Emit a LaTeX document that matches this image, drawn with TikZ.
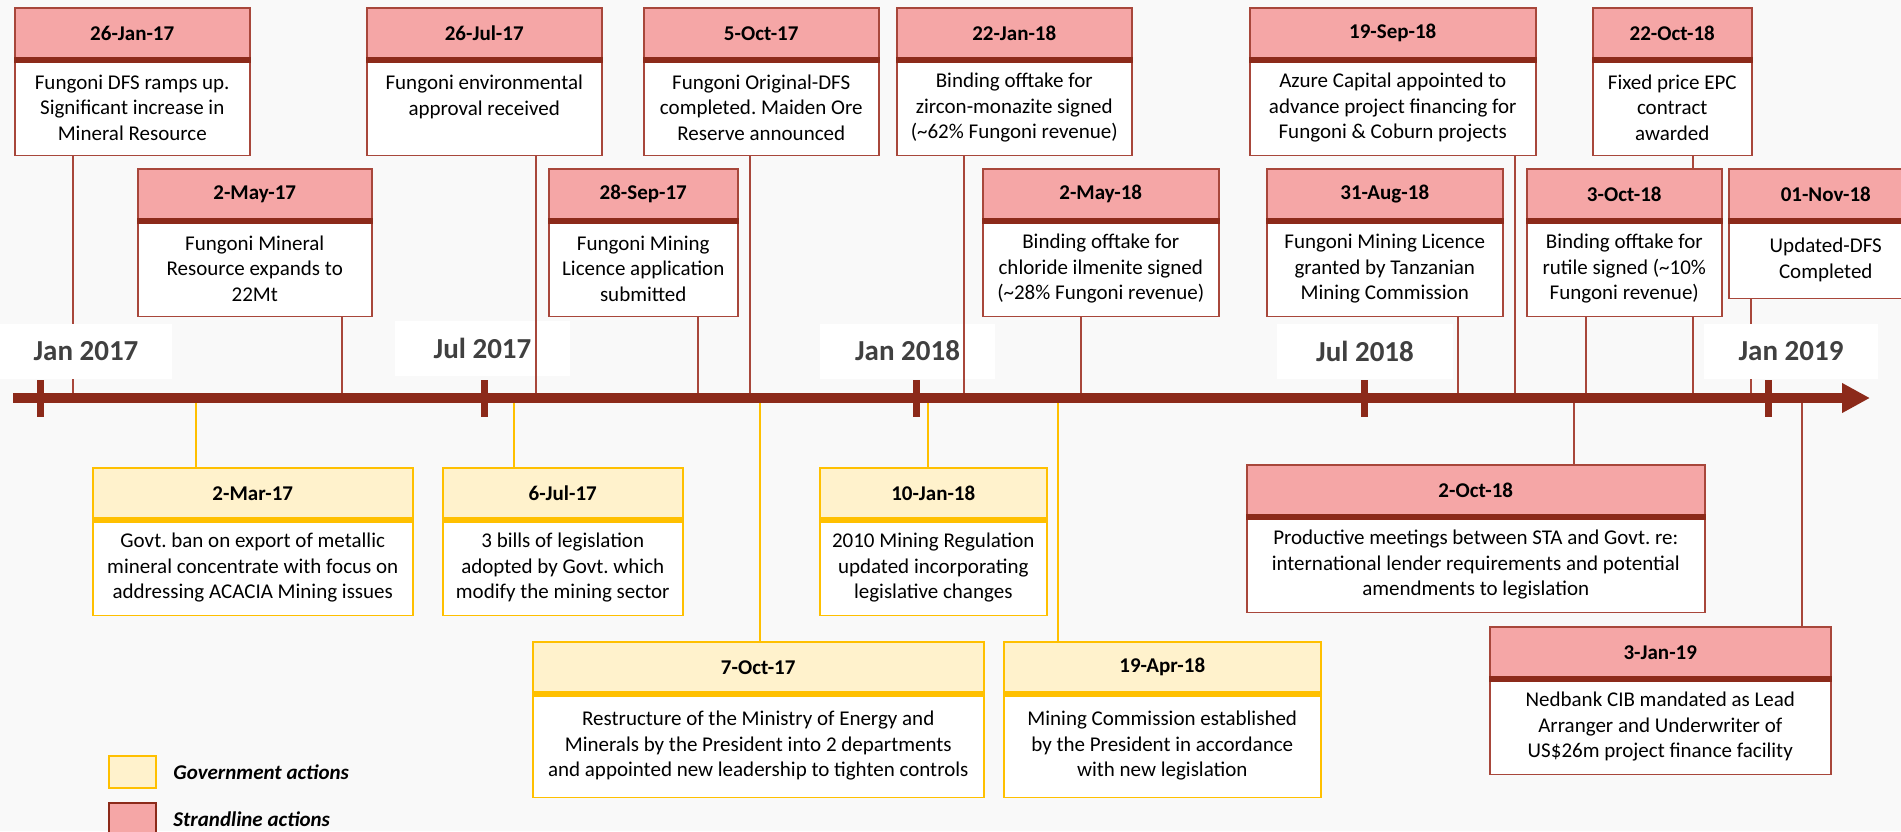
\documentclass[tikz,border=0pt]{standalone}
\usepackage{fontspec}
\setmainfont{Carlito}
\usetikzlibrary{positioning,arrows.meta}

\definecolor{pagebg}{HTML}{F9F9F9}
\definecolor{stred}{HTML}{8C2A1A}
\definecolor{stline}{HTML}{A8473B}
\definecolor{stfill}{HTML}{F5A6A6}
\definecolor{gvgold}{HTML}{FFC000}
\definecolor{gvfill}{HTML}{FFF2CC}
\definecolor{yeargray}{HTML}{404040}

\newcommand\evdate{\fontsize{10.5}{12.75}\selectfont\bfseries}
\newcommand\evtext{\fontsize{10.5}{12.75}\selectfont}
\frenchspacing

\begin{document}
\begin{tikzpicture}[
  x=0.5pt, y=-0.5pt,
  redhead/.style={draw=stline, fill=stfill, line width=0.75pt, inner sep=0pt,
    minimum height=25.5pt, anchor=north west, font=\evdate},
  redbar/.style={draw=stred, line width=3pt},
  redbody/.style={draw=stline, fill=white, line width=0.75pt, inner sep=0pt,
    minimum height=47.5pt, align=center, font=\evtext,
    append after command={\pgfextra{\let\lastbody\tikzlastnode}
      (\lastbody.north west) edge[redbar] (\lastbody.north east)}},
  goldhead/.style={redhead, draw=gvgold, fill=gvfill},
  goldbar/.style={draw=gvgold, line width=3pt},
  goldbody/.style={draw=gvgold, fill=white, line width=0.75pt, inner sep=0pt,
    minimum height=47.5pt, align=center, font=\evtext,
    append after command={\pgfextra{\let\lastbody\tikzlastnode}
      (\lastbody.north west) edge[goldbar] (\lastbody.north east)}},
  redlink/.style={draw=stline, line width=1pt},
  goldlink/.style={draw=gvgold, line width=1pt},
  yearlbl/.style={fill=white, inner sep=0pt, minimum height=27.5pt,
    text=yeargray, font=\fontsize{14.5}{17}\selectfont\bfseries},
  axisline/.style={draw=stred, line width=5pt, -{Triangle[length=14pt,width=14pt]}},
  axtick/.style={draw=stred, line width=3.5pt},
  keytext/.style={anchor=west, inner sep=0pt, font=\evdate\itshape}
]
\fill[pagebg] (0,0) rectangle (1901,831);
\useasboundingbox (0,0) rectangle (1901,831);

% points on the time axis
\coordinate (dfsx) at (73,398);
\coordinate (envx) at (536,398);
\coordinate (orex) at (750,398);
\coordinate (zirx) at (964,398);
\coordinate (azux) at (1515,398);
\coordinate (epcx) at (1693,398);
\coordinate (resx) at (342,398);
\coordinate (licx) at (698,398);
\coordinate (ilmx) at (1081,398);
\coordinate (grax) at (1458,398);
\coordinate (rutx) at (1586,398);
\coordinate (updx) at (1751,398);
\coordinate (banx) at (196,398);
\coordinate (bilx) at (514,398);
\coordinate (regx) at (928,398);
\coordinate (mstx) at (1574,398);
\coordinate (metx) at (760,398);
\coordinate (comx) at (1058,398);
\coordinate (nedx) at (1802,398);

% Strandline, upper row
\node[redhead, minimum width=117.5pt] (dfsh) at (14,7) {26-Jan-17};
\node[redbody, minimum width=117.5pt, below=0pt of dfsh] (dfs) {Fungoni DFS ramps up.\\Significant increase in\\Mineral Resource};
\node[redhead, minimum width=117.5pt] (envh) at (366,7) {26-Jul-17};
\node[redbody, minimum width=117.5pt, below=0pt of envh] (env) {Fungoni environmental\\approval received\\\mbox{}};
\node[redhead, minimum width=117.5pt] (oreh) at (643,7) {5-Oct-17};
\node[redbody, minimum width=117.5pt, below=0pt of oreh] (ore) {Fungoni Original-DFS\\completed. Maiden Ore\\Reserve announced};
\node[redhead, minimum width=117.5pt] (zirh) at (896,7) {22-Jan-18};
\node[redbody, minimum width=117.5pt, below=0pt of zirh] (zir) {Binding offtake for\\zircon-monazite signed\\(\textasciitilde62\% Fungoni revenue)};
\node[redhead, minimum width=143pt] (azuh) at (1249,7) {19-Sep-18};
\node[redbody, minimum width=143pt, below=0pt of azuh] (azu) {Azure Capital appointed to\\advance project financing for\\Fungoni \& Coburn projects};
\node[redhead, minimum width=79.5pt] (epch) at (1592,7) {22-Oct-18};
\node[redbody, minimum width=79.5pt, below=0pt of epch] (epc) {Fixed price EPC\\contract\\awarded};

\draw[redlink] (epcx) -- (epcx |- epc.south);
\draw[redlink] (dfsx) -- (dfsx |- dfs.south);

% Strandline, second row
\node[redhead, minimum width=117pt] (resh) at (137,168) {2-May-17};
\node[redbody, minimum width=117pt, below=0pt of resh] (res) {Fungoni Mineral\\Resource expands to\\22Mt};
\node[redhead, minimum width=94.5pt] (lich) at (548,168) {28-Sep-17};
\node[redbody, minimum width=94.5pt, below=0pt of lich] (lic) {Fungoni Mining\\Licence application\\submitted};
\node[redhead, minimum width=118pt] (ilmh) at (982,168) {2-May-18};
\node[redbody, minimum width=118pt, below=0pt of ilmh] (ilm) {Binding offtake for\\chloride ilmenite signed\\(\textasciitilde28\% Fungoni revenue)};
\node[redhead, minimum width=118pt] (grah) at (1266,168) {31-Aug-18};
\node[redbody, minimum width=118pt, below=0pt of grah] (gra) {Fungoni Mining Licence\\granted by Tanzanian\\Mining Commission};
\node[redhead, minimum width=97.5pt] (ruth) at (1526,168) {3-Oct-18};
\node[redbody, minimum width=97.5pt, below=0pt of ruth] (rut) {Binding offtake for\\rutile signed (\textasciitilde10\%\\Fungoni revenue)};
\node[redhead, minimum width=97pt] (updh) at (1728,168) {01-Nov-18};
\node[redbody, minimum width=97pt, minimum height=38.5pt, below=0pt of updh] (upd) {Updated-DFS\\Completed};

\draw[redlink] (updx) -- (updx |- upd.south);

% year labels
\node[yearlbl, minimum width=86pt] (y17a) at (86,351) {Jan 2017};
\node[yearlbl, minimum width=87.5pt] (y17b) at (482.5,348) {Jul 2017};
\node[yearlbl, minimum width=87.5pt] (y18a) at (907.5,351) {Jan 2018};
\node[yearlbl, minimum width=88pt] (y18b) at (1365,351) {Jul 2018};
\node[yearlbl, minimum width=87pt] (y19a) at (1791,351) {Jan 2019};

% Government and Strandline, below the axis
\node[goldhead, minimum width=160pt] (banh) at (92,467) {2-Mar-17};
\node[goldbody, minimum width=160pt, below=0pt of banh] (ban) {Govt. ban on export of metallic\\mineral concentrate with focus on\\addressing ACACIA Mining issues};
\node[goldhead, minimum width=120pt] (bilh) at (442,467) {6-Jul-17};
\node[goldbody, minimum width=120pt, below=0pt of bilh] (bil) {3 bills of legislation\\adopted by Govt. which\\modify the mining sector};
\node[goldhead, minimum width=113.5pt] (regh) at (819,467) {10-Jan-18};
\node[goldbody, minimum width=113.5pt, below=0pt of regh] (reg) {2010 Mining Regulation\\updated incorporating\\legislative changes};
\node[redhead, minimum width=229pt] (msth) at (1246,464) {2-Oct-18};
\node[redbody, minimum width=229pt, below=0pt of msth] (mst) {Productive meetings between STA and Govt. re:\\international lender requirements and potential\\amendments to legislation};
\node[goldhead, minimum width=225.5pt] (meth) at (532,641) {7-Oct-17};
\node[goldbody, minimum width=225.5pt, minimum height=51.5pt, below=0pt of meth] (met) {Restructure of the Ministry of Energy and\\Minerals by the President into 2 departments\\and appointed new leadership to tighten controls};
\node[goldhead, minimum width=158.5pt] (comh) at (1003,641) {19-Apr-18};
\node[goldbody, minimum width=158.5pt, minimum height=51.5pt, below=0pt of comh] (com) {Mining Commission established\\by the President in accordance\\with new legislation};
\node[redhead, minimum width=170.5pt] (nedh) at (1489,626) {3-Jan-19};
\node[redbody, minimum width=170.5pt, below=0pt of nedh] (ned) {Nedbank CIB mandated as Lead\\Arranger and Underwriter of\\US\$26m project finance facility};

% leaders
\draw[redlink] (envx) -- (envx |- env.south);
\draw[redlink] (orex) -- (orex |- ore.south);
\draw[redlink] (zirx) -- (zirx |- zir.south);
\draw[redlink] (azux) -- (azux |- azu.south);
\draw[redlink] (resx) -- (resx |- res.south);
\draw[redlink] (licx) -- (licx |- lic.south);
\draw[redlink] (ilmx) -- (ilmx |- ilm.south);
\draw[redlink] (grax) -- (grax |- gra.south);
\draw[redlink] (rutx) -- (rutx |- rut.south);
\draw[goldlink] (banx) -- (banx |- banh.north);
\draw[goldlink] (bilx) -- (bilx |- bilh.north);
\draw[goldlink] (regx) -- (regx |- regh.north);
\draw[goldlink] (metx) -- (metx |- meth.north);
\draw[goldlink] (comx) -- (comx |- comh.north);
\draw[redlink] (mstx) -- (mstx |- msth.north);
\draw[redlink] (nedx) -- (nedx |- nedh.north);

% time axis
\coordinate (axs) at (13,398);
\coordinate (axe) at (1870,398);
\draw[axisline] (axs) -- (axe);
\foreach \tx in {40,484,916,1364,1768}
  \draw[axtick] (\tx,380) -- (\tx,417);

% legend
\node[draw=gvgold, fill=gvfill, line width=1pt, minimum width=23.5pt, minimum height=16pt, inner sep=0pt] (gkey) at (132.5,772) {};
\node[keytext, right=8pt of gkey] (gtxt) {Government actions};
\node[draw=stred, fill=stfill, line width=1pt, minimum width=23.5pt, minimum height=16pt, inner sep=0pt] (skey) at (132.5,819) {};
\node[keytext, right=8pt of skey] (stxt) {Strandline actions};
\end{tikzpicture}
\end{document}
